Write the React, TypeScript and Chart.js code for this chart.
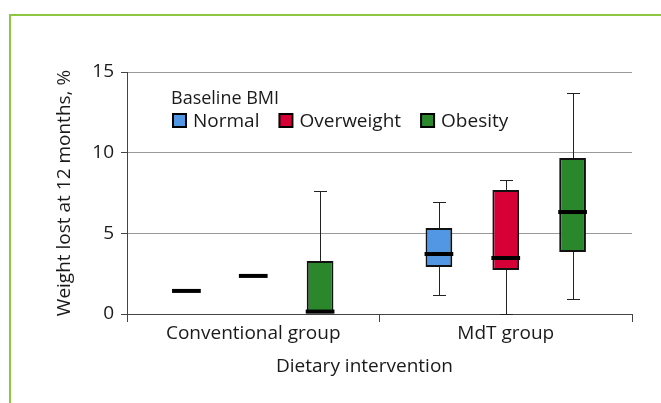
import React, { useEffect, useRef } from 'react';
import { Chart, registerables } from 'chart.js';

Chart.register(...registerables);

// ---- data ----
const categories = ['Conventional group', 'MdT group'];
const seriesNames = ['Normal', 'Overweight', 'Obesity'];
const seriesColors = ['#5297E3', '#D70036', '#2B872B'];

// values per category: [Conventional, MdT]
const normalMin = [1.43, 1.18];
const normalQ1 = [1.43, 2.91];
const normalMedian = [1.43, 3.72];
const normalQ3 = [1.43, 5.33];
const normalMax = [1.43, 6.94];

const overweightMin = [2.36, 0];
const overweightQ1 = [2.36, 2.73];
const overweightMedian = [2.36, 3.47];
const overweightQ3 = [2.36, 7.69];
const overweightMax = [2.36, 8.31];

const obesityMin = [0, 0.93];
const obesityQ1 = [0, 3.84];
const obesityMedian = [0.15, 6.32];
const obesityQ3 = [3.29, 9.67];
const obesityMax = [7.63, 13.7];

const yTickValues = [0, 5, 10, 15];
const legendTitle = 'Baseline BMI';
const yTitle = 'Weight lost at 12 months, %';
const xTitle = 'Dietary intervention';

const stats = [
  { min: normalMin, q1: normalQ1, median: normalMedian, q3: normalQ3, max: normalMax },
  { min: overweightMin, q1: overweightQ1, median: overweightMedian, q3: overweightQ3, max: overweightMax },
  { min: obesityMin, q1: obesityQ1, median: obesityMedian, q3: obesityQ3, max: obesityMax },
];

const FONT = '"Open Sans", "Noto Sans", sans-serif';
const TEXT = '#1a1a1a';

const boxPlugin = {
  id: 'boxWhiskers',
  afterDatasetsDraw(chart: any) {
    const ctx = chart.ctx;
    const ys = chart.scales.y;
    chart.data.datasets.forEach((_ds: any, di: number) => {
      const meta = chart.getDatasetMeta(di);
      const st = stats[di];
      meta.data.forEach((bar: any, i: number) => {
        const x = Math.round(bar.x) + 0.5;
        const w = bar.width;
        const q1 = st.q1[i], q3 = st.q3[i], mn = st.min[i], mx = st.max[i], md = st.median[i];
        const cap = 13;
        ctx.save();
        ctx.strokeStyle = '#222';
        ctx.lineWidth = 1;
        if (mx > q3) {
          const y0 = ys.getPixelForValue(q3);
          const y1 = Math.round(ys.getPixelForValue(mx)) + 0.5;
          ctx.beginPath();
          ctx.moveTo(x, y0);
          ctx.lineTo(x, y1);
          ctx.moveTo(x - cap / 2, y1);
          ctx.lineTo(x + cap / 2, y1);
          ctx.stroke();
        }
        if (mn < q1) {
          const y0 = ys.getPixelForValue(q1);
          const y1 = Math.round(ys.getPixelForValue(mn)) + 0.5;
          ctx.beginPath();
          ctx.moveTo(x, y0);
          ctx.lineTo(x, y1);
          ctx.moveTo(x - cap / 2, y1);
          ctx.lineTo(x + cap / 2, y1);
          ctx.stroke();
        }
        const ym = ys.getPixelForValue(md);
        ctx.strokeStyle = '#000';
        ctx.lineWidth = 4;
        ctx.beginPath();
        ctx.moveTo(bar.x - w / 2 - 1, ym);
        ctx.lineTo(bar.x + w / 2 + 1, ym);
        ctx.stroke();
        ctx.restore();
      });
    });
  },
  afterDraw(chart: any) {
    const ctx = chart.ctx;
    const area = chart.chartArea;
    const left = area.left + 44;
    ctx.save();
    ctx.fillStyle = TEXT;
    ctx.textBaseline = 'alphabetic';
    ctx.textAlign = 'left';
    ctx.font = `18px ${FONT}`;
    ctx.fillText(legendTitle, left, area.top + 32);
    ctx.font = `19px ${FONT}`;
    let x = left + 1;
    const sqTop = area.top + 41;
    seriesNames.forEach((name, i) => {
      ctx.fillStyle = seriesColors[i];
      ctx.fillRect(x + 1, sqTop + 1, 13, 13);
      ctx.strokeStyle = '#000';
      ctx.lineWidth = 2;
      ctx.strokeRect(x + 1, sqTop + 1, 13, 13);
      ctx.fillStyle = TEXT;
      ctx.fillText(name, x + 21, area.top + 55);
      x = x + 21 + ctx.measureText(name).width + 19;
    });
    // x-axis title
    ctx.font = `19px ${FONT}`;
    ctx.textAlign = 'center';
    ctx.textBaseline = 'middle';
    ctx.fillText(xTitle, (area.left + area.right) / 2 - 15, area.bottom + 53);
    ctx.restore();
  },
};

export default function App() {
  const ref = useRef<HTMLCanvasElement | null>(null);
  useEffect(() => {
    if (!ref.current) return;
    const chart = new Chart(ref.current, {
      type: 'bar',
      data: {
        labels: categories,
        datasets: seriesNames.map((name, i) => ({
          label: name,
          data: categories.map((_c, j) => [stats[i].q1[j], stats[i].q3[j]]) as any,
          backgroundColor: seriesColors[i],
          borderColor: '#111',
          borderWidth: 2,
          borderSkipped: false,
          categoryPercentage: 0.794,
          barPercentage: 0.4,
        })),
      },
      options: {
        responsive: false,
        animation: false,
        layout: { padding: { left: 0, right: 29, top: 72, bottom: 0 } },
        plugins: { legend: { display: false }, tooltip: { enabled: false } },
        scales: {
          x: {
            grid: { offset: true, drawOnChartArea: false, tickLength: 8, color: '#444' },
            border: { color: '#444', width: 1 },
            ticks: { font: { family: FONT, size: 19 }, color: TEXT, padding: 0 },
            title: { display: false },
            afterFit: (s: any) => { s.height = 89; },
          },
          y: {
            min: 0,
            max: 15,
            afterBuildTicks: (s: any) => { s.ticks = yTickValues.map((v) => ({ value: v })); },
            ticks: { font: { family: FONT, size: 19 }, color: TEXT, padding: 7 },
            grid: { color: '#9A9A9A', tickLength: 6, tickColor: '#444' },
            border: { color: '#444', width: 1 },
            title: { display: true, text: yTitle, font: { family: FONT, size: 19 }, color: TEXT, padding: { top: 53, bottom: 0 } },
            afterFit: (s: any) => { s.width = 127; },
          },
        },
      },
      plugins: [boxPlugin],
    });
    return () => chart.destroy();
  }, []);

  return (
    <div style={{ position: 'fixed', left: 0, top: 0, width: 661, height: 403, overflow: 'hidden', background: '#fff' }}>
      <div style={{ position: 'absolute', left: 9, top: 14, width: 800, height: 600, borderLeft: '2px solid #8DC63F', borderTop: '2px solid #8DC63F' }} />
      <canvas ref={ref} width={661} height={403} style={{ position: 'absolute', left: 0, top: 0 }} />
    </div>
  );
}
